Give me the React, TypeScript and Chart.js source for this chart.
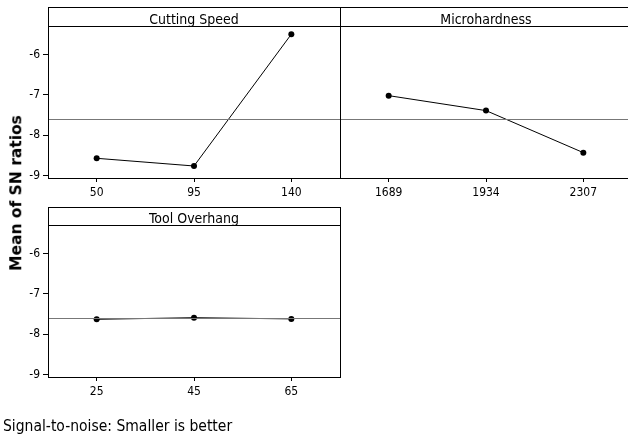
import React, { useEffect, useRef } from 'react';
import { Chart, registerables } from 'chart.js';

Chart.register(...registerables);

// ---- data ----
const cuttingSpeedLevels = ['50', '95', '140'];
const cuttingSpeedSN = [-8.57, -8.76, -5.5];
const microhardnessLevels = ['1689', '1934', '2307'];
const microhardnessSN = [-7.02, -7.39, -8.43];
const toolOverhangLevels = ['25', '45', '65'];
const toolOverhangSN = [-7.63, -7.59, -7.62];
const overallMeanSN = -7.61;
const yTickValues = [-6, -7, -8, -9];
const yAxisTitle = 'Mean of SN ratios';
const footNote = 'Signal-to-noise: Smaller is better';

const Y_MIN = -9.057;
const Y_MAX = -5.322;
const FONT = "'DejaVu Sans Condensed', 'DejaVu Sans', sans-serif";

const panelPlugin = {
  id: 'panelFrame',
  afterDraw(chart: any, _args: any, opts: any) {
    const { ctx, chartArea } = chart;
    const { left, top, right, bottom } = chartArea;
    const L = Math.round(left) + 0.5;
    const R = Math.round(right) + 0.5;
    const B = Math.round(bottom) + 0.5;
    const T = opts.headerTop + 0.5;
    const H = Math.round(top) - 0.5;
    ctx.save();
    ctx.fillStyle = '#fff';
    ctx.fillRect(L, T, R - L, H - T);
    ctx.strokeStyle = '#000';
    ctx.lineWidth = 1;
    ctx.beginPath();
    ctx.moveTo(L - 0.5, T); ctx.lineTo(R + 0.5, T);
    ctx.moveTo(L - 0.5, H); ctx.lineTo(R + 0.5, H);
    ctx.moveTo(L - 0.5, B); ctx.lineTo(R + 0.5, B);
    ctx.moveTo(L, T); ctx.lineTo(L, B);
    if (opts.rightBorder) { ctx.moveTo(R, T); ctx.lineTo(R, B); }
    ctx.stroke();
    ctx.fillStyle = '#000';
    ctx.font = `14px ${FONT}`;
    ctx.textAlign = 'center';
    ctx.textBaseline = 'alphabetic';
    ctx.fillText(opts.title, (left + right) / 2, H - 3);
    ctx.restore();
  },
};

function makeConfig(
  title: string,
  levels: string[],
  values: number[],
  showY: boolean,
  padTop: number,
  padRight: number,
  xHeight: number,
  rightBorder: boolean
): any {
  return {
    type: 'scatter',
    data: {
      datasets: [
        {
          data: [
            { x: 0.5, y: overallMeanSN },
            { x: 3.5, y: overallMeanSN },
          ],
          showLine: true,
          borderColor: '#777777',
          borderWidth: 1,
          pointRadius: 0,
        },
        {
          data: values.map((v, i) => ({ x: i + 1, y: v })),
          showLine: true,
          borderColor: '#000',
          backgroundColor: '#000',
          borderWidth: 1,
          pointRadius: 3,
          pointBorderWidth: 0,
          pointBackgroundColor: '#000',
        },
      ],
    },
    options: {
      responsive: false,
      animation: false,
      events: [],
      devicePixelRatio: 1,
      layout: { autoPadding: false, padding: { top: padTop, right: padRight, left: 0, bottom: 0 } },
      plugins: {
        legend: { display: false },
        tooltip: { enabled: false },
        panelFrame: { title, headerTop: 7, rightBorder },
      },
      scales: {
        x: {
          type: 'linear',
          min: 0.5,
          max: 3.5,
          afterBuildTicks: (s: any) => {
            s.ticks = [1, 2, 3].map((v) => ({ value: v }));
          },
          afterFit: (s: any) => {
            s.height = xHeight;
            s.paddingLeft = 0;
            s.paddingRight = 0;
          },
          ticks: {
            callback: (_v: any, i: number) => levels[i],
            font: { family: FONT, size: 12 },
            color: '#000',
            padding: 4,
            maxRotation: 0,
            autoSkip: false,
          },
          grid: {
            display: true,
            drawOnChartArea: false,
            drawTicks: true,
            tickLength: 4,
            color: '#000',
          },
          border: { display: false },
        },
        y: {
          type: 'linear',
          display: showY,
          min: Y_MIN,
          max: Y_MAX,
          afterBuildTicks: (s: any) => {
            s.ticks = yTickValues.map((v) => ({ value: v }));
          },
          afterFit: (s: any) => {
            s.width = showY ? 48 : 0;
            s.paddingTop = 0;
            s.paddingBottom = 0;
          },
          ticks: {
            callback: (v: any) => String(v),
            font: { family: FONT, size: 12 },
            color: '#000',
            padding: 3,
          },
          grid: {
            display: true,
            drawOnChartArea: false,
            drawTicks: true,
            tickLength: 5,
            color: '#000',
          },
          border: { display: false },
        },
      },
    },
    plugins: [panelPlugin],
  };
}

function Panel(props: {
  left: number;
  top: number;
  width: number;
  height: number;
  config: any;
}) {
  const ref = useRef<HTMLCanvasElement | null>(null);
  useEffect(() => {
    if (!ref.current) return;
    const chart = new Chart(ref.current, props.config);
    return () => chart.destroy();
  }, []);
  return (
    <canvas
      ref={ref}
      width={props.width}
      height={props.height}
      style={{
        position: 'absolute',
        left: props.left,
        top: props.top,
        width: props.width,
        height: props.height,
      }}
    />
  );
}

export default function App() {
  return (
    <div
      style={{
        position: 'absolute',
        left: 0,
        top: 0,
        width: 628,
        height: 440,
        overflow: 'hidden',
        background: '#fff',
      }}
    >
      <Panel
        left={0}
        top={0}
        width={341}
        height={205}
        config={makeConfig('Cutting Speed', cuttingSpeedLevels, cuttingSpeedSN, true, 27, 1, 27, true)}
      />
      <Panel
        left={340}
        top={0}
        width={293}
        height={205}
        config={makeConfig('Microhardness', microhardnessLevels, microhardnessSN, false, 27, 1, 27, false)}
      />
      <Panel
        left={0}
        top={200}
        width={341}
        height={205}
        config={makeConfig('Tool Overhang', toolOverhangLevels, toolOverhangSN, true, 26, 1, 28, true)}
      />
      <div
        style={{
          position: 'absolute',
          left: 17,
          top: 192.5,
          transform: 'translate(-50%, -50%) rotate(-90deg)',
          whiteSpace: 'nowrap',
          fontFamily: "'DejaVu Sans', sans-serif",
          fontWeight: 'bold',
          fontSize: 15.5,
          lineHeight: 1,
          color: '#000',
        }}
      >
        {yAxisTitle}
      </div>
      <div
        style={{
          position: 'absolute',
          left: 3,
          top: 419,
          whiteSpace: 'nowrap',
          fontFamily: FONT,
          fontSize: 15.5,
          lineHeight: 1,
          color: '#000',
        }}
      >
        {footNote}
      </div>
    </div>
  );
}
